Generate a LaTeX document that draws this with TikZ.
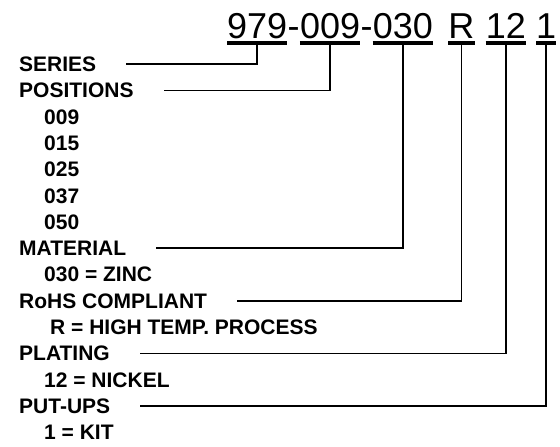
\documentclass[tikz,border=0pt]{standalone}
\usepackage{fontspec}
\setmainfont{Liberation Sans}
\usetikzlibrary{positioning}
\tikzset{
  part/.style={inner sep=0pt,text height=26pt,text depth=0pt,font=\fontsize{36}{40}\selectfont},
  head/.style={anchor=base west,inner sep=0pt,text height=15pt,text depth=0pt,font=\fontsize{21}{25}\selectfont\bfseries},
  opt/.style={head},
  uline/.style={line width=3.5pt},
  lead/.style={line width=1.6pt}
}

\begin{document}
\begin{tikzpicture}[x=1pt,y=-1pt]
  \useasboundingbox (0,0) rectangle (560,447);
  % part number
  \node[part,anchor=base west] (pser) at (227,38) {979};
  \node[part,right=0pt of pser] (dash1) {-};
  \node[part,right=0pt of dash1] (ppos) {009};
  \node[part,right=0pt of ppos] (dash2) {-};
  \node[part,right=0pt of dash2] (pmat) {030};
  \node[part,right=15pt of pmat] (proh) {R};
  \node[part,right=11pt of proh] (pplt) {12};
  \node[part,right=10pt of pplt] (ppak) {1};
  \foreach \p in {pser,ppos,pmat,proh,pplt,ppak}
    \draw[uline] ([yshift=-5pt]\p.south west) -- ([yshift=-5pt]\p.south east);

  % legend
  \node[head] (series) at (19,71.5) {SERIES};
  \node[head] (positions) at (19,97.8) {POSITIONS};
  \node[opt] (o009) at (44,124.1) {009};
  \node[opt] (o015) at (44,150.4) {015};
  \node[opt] (o025) at (44,176.7) {025};
  \node[opt] (o037) at (44,203) {037};
  \node[opt] (o050) at (44,229.3) {050};
  \node[head] (material) at (19,255.6) {MATERIAL};
  \node[opt] (zinc) at (44,281.9) {030 = ZINC};
  \node[head] (rohs) at (19,308.2) {RoHS COMPLIANT};
  \node[opt] (htp) at (50,334.5) {R = HIGH TEMP. PROCESS};
  \node[head] (plating) at (19,360.8) {PLATING};
  \node[opt] (nickel) at (44,387.1) {12 = NICKEL};
  \node[head] (putups) at (19,413.4) {PUT-UPS};
  \node[opt] (kit) at (44,439.7) {1 = KIT};

  % leaders
  \draw[lead] ([yshift=-5pt]pser.south) |- ([xshift=30pt]series.east);
  \draw[lead] ([yshift=-5pt]ppos.south) |- ([xshift=30pt]positions.east);
  \draw[lead] ([yshift=-5pt]pmat.south) |- ([xshift=30pt]material.east);
  \draw[lead] ([yshift=-5pt]proh.south) |- ([xshift=30pt]rohs.east);
  \draw[lead] ([yshift=-5pt]pplt.south) |- ([xshift=30pt]plating.east);
  \draw[lead] ([yshift=-5pt]ppak.south) |- ([xshift=30pt]putups.east);
\end{tikzpicture}
\end{document}
